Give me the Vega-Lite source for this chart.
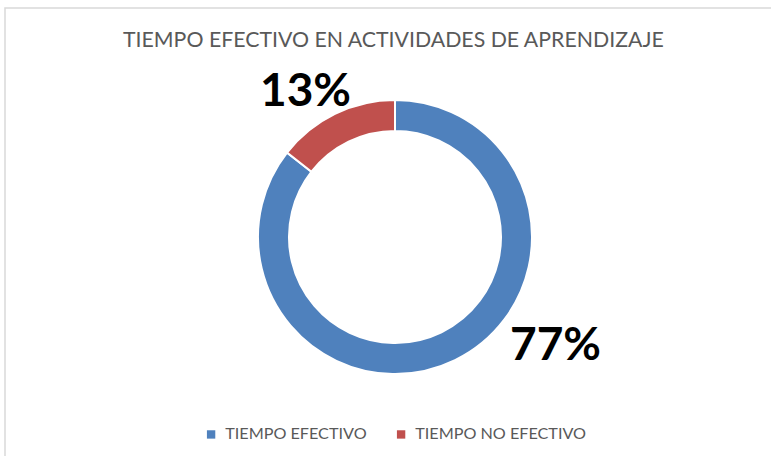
{
  "$schema": "https://vega.github.io/schema/vega-lite/v6.json",
  "autosize": {"type": "none"},
  "width": 780,
  "height": 458,
  "padding": {"left": 5, "top": 8, "right": 0, "bottom": 0},
  "background": "white",
  "view": {"stroke": "#d9d9d9", "strokeWidth": 1.5},
  "config": {
    "view": {"stroke": "#d9d9d9", "strokeWidth": 1.5},
    "font": "Lato"
  },
  "title": {
    "text": "TIEMPO EFECTIVO EN ACTIVIDADES DE APRENDIZAJE",
    "anchor": "start",
    "dx": 118,
    "offset": -43,
    "font": "Lato",
    "fontSize": 21.3,
    "fontWeight": "normal",
    "color": "#595959"
  },
  "data": {
    "values": [
      {"categoria": "TIEMPO EFECTIVO", "valor": 77, "etiqueta": "77%"},
      {"categoria": "TIEMPO NO EFECTIVO", "valor": 13, "etiqueta": "13%"}
    ]
  },
  "encoding": {
    "theta": {"field": "valor", "type": "quantitative", "stack": true},
    "order": {"field": "categoria", "sort": "ascending"}
  },
  "layer": [
    {
      "mark": {"type": "arc", "outerRadius": 137, "innerRadius": 106, "stroke": "white", "strokeWidth": 2},
      "encoding": {
        "color": {
          "field": "categoria",
          "type": "nominal",
          "scale": {"domain": ["TIEMPO EFECTIVO", "TIEMPO NO EFECTIVO"], "range": ["#4F81BD", "#C0504D"]},
          "legend": {
            "title": null,
            "orient": "none",
            "direction": "horizontal",
            "legendX": 198,
            "legendY": 418,
            "symbolType": "square",
            "symbolSize": 70,
            "symbolStrokeWidth": 0,
            "labelFont": "Lato",
            "labelFontSize": 16.2,
            "labelLimit": 400,
            "labelColor": "#595959",
            "columnPadding": 26,
            "labelOffset": 6
          }
        }
      }
    },
    {
      "mark": {"type": "text", "radius": 170, "dx": 86, "dy": -44, "font": "Lato", "fontSize": 46, "fontWeight": "bold", "color": "black", "align": "center", "baseline": "middle"},
      "encoding": {"text": {"condition": {"test": "datum.categoria === 'TIEMPO EFECTIVO'", "field": "etiqueta"}, "value": ""}}
    },
    {
      "mark": {"type": "text", "radius": 170, "dx": -15, "dy": 8, "font": "Lato", "fontSize": 46, "fontWeight": "bold", "color": "black", "align": "center", "baseline": "middle"},
      "encoding": {"text": {"condition": {"test": "datum.categoria === 'TIEMPO NO EFECTIVO'", "field": "etiqueta"}, "value": ""}}
    }
  ]
}
